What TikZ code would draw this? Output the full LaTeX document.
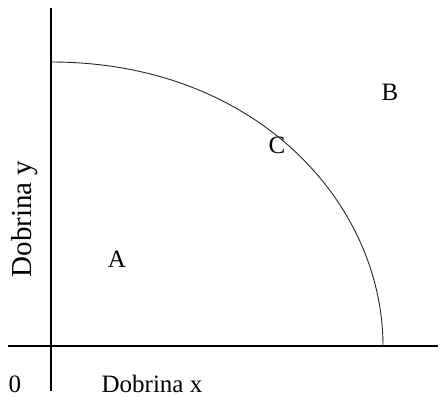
\documentclass[tikz,border=0pt]{standalone}
\usepackage{fontspec}
\setmainfont{Liberation Serif}
\begin{document}
\begin{tikzpicture}[x=1pt,y=-1pt,
  axis/.style={line width=1.1pt,black},
  curve/.style={line width=0.9pt,black!85},
  lbl/.style={font=\fontsize{25}{27}\selectfont,inner sep=0pt,anchor=base}]
\useasboundingbox (0,0) rectangle (442,398);
\coordinate (ytop) at (51,8);
\coordinate (ybot) at (51,391);
\coordinate (xl) at (8,346);
\coordinate (xr) at (438,346);
\draw[axis] (ytop) -- (ybot);
\draw[axis] (xl) -- (xr);
\coordinate (p0) at (51,62);
\coordinate (p1) at (383,346);
\draw[curve] (p0) .. controls (257,62) and (383,204) .. (p1);
\node[lbl] (B) at (390,101) {B};
\node[lbl] (C) at (277,154) {C};
\node[lbl] (A) at (117,268) {A};
\node[lbl] (zero) at (15,392) {0};
\node[lbl] (dx) at (152,392) {Dobrina x};
\node[lbl,rotate=90,font=\fontsize{29}{31}\selectfont] (dy) at (31,219) {Dobrina y};
\end{tikzpicture}
\end{document}
